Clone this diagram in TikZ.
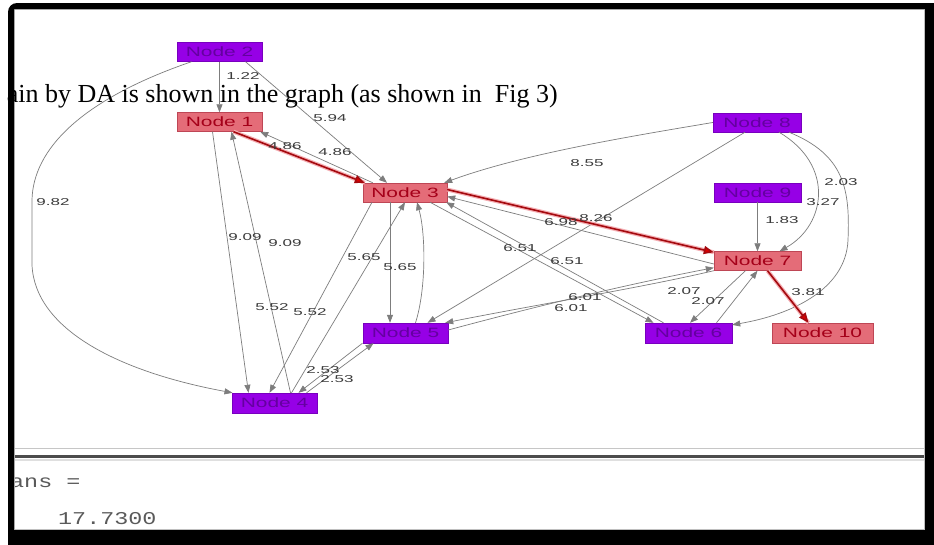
\documentclass[tikz,border=0pt]{standalone}
\usepackage{fontspec}
\usepackage{graphicx}
\setmainfont{Liberation Serif}
\newfontfamily\sansf{Liberation Sans}
\newfontfamily\monof{Liberation Mono}
\usetikzlibrary{arrows.meta}
\definecolor{nodepurple}{RGB}{150,0,230}
\definecolor{purpleborder}{RGB}{120,0,190}
\definecolor{purpletext}{RGB}{100,0,160}
\definecolor{nodesalmon}{RGB}{228,108,120}
\definecolor{salmonborder}{RGB}{190,70,85}
\definecolor{salmontext}{RGB}{165,0,25}
\definecolor{edgegray}{RGB}{125,125,125}
\definecolor{labelgray}{RGB}{60,60,60}
\definecolor{redline}{RGB}{165,10,15}
\definecolor{pinkglow}{RGB}{245,175,180}
\definecolor{arrowred}{RGB}{220,0,0}
\definecolor{monogray}{RGB}{90,90,90}
\newcommand{\nt}[1]{\scalebox{1.55}[1]{#1}}
\newcommand{\lb}[1]{\scalebox{1.7}[1]{#1}}
\newcommand{\mt}[1]{\scalebox{1.3}[1]{#1}}
\begin{document}
\begin{tikzpicture}[x=1pt,y=-1pt,
  pnode/.style={draw=purpleborder, fill=nodepurple, text=purpletext, inner sep=0pt, minimum height=19pt, font=\sansf\fontsize{13.5}{14}\selectfont},
  rnode/.style={draw=salmonborder, fill=nodesalmon, text=salmontext, inner sep=0pt, minimum height=19pt, font=\sansf\fontsize{13.5}{14}\selectfont},
  edge/.style={draw=edgegray, line width=0.7pt, -{Triangle[length=8pt,width=6pt]}},
  redge/.style={draw=redline, line width=1.6pt, preaction={draw=pinkglow, line width=4pt, -}, -{Triangle[length=10pt,width=8pt,fill=arrowred]}},
  wl/.style={inner sep=0pt, text=labelgray, font=\sansf\fontsize{10}{10}\selectfont},
  mono/.style={inner sep=0pt, text=monogray, font=\monof\fontsize{18}{18}\selectfont}
]
\useasboundingbox (0,0) rectangle (934,544);
\begin{scope}
\clip (0,0) rectangle (934,544);
\fill[white] (0,0) rectangle (934,544);

% separator of the window
\draw[gray!45, line width=1pt] (14,448) -- (925,448);
\draw[gray!60!black, line width=2.5pt] (14,456.5) -- (925,456.5);
\draw[gray!25, line width=2pt] (14,459.5) -- (925,459.5);

% nodes
\node[pnode, minimum width=85pt]  (N2)  at (219.5,52)  {\nt{Node 2}};
\node[rnode, minimum width=85pt]  (N1)  at (219.5,122) {\nt{Node 1}};
\node[rnode, minimum width=84pt]  (N3)  at (405,192.5) {\nt{Node 3}};
\node[pnode, minimum width=88pt]  (N8)  at (757,122.5) {\nt{Node 8}};
\node[pnode, minimum width=87pt]  (N9)  at (757.5,192.5) {\nt{Node 9}};
\node[rnode, minimum width=87pt]  (N7)  at (757.5,261) {\nt{Node 7}};
\node[rnode, minimum width=101pt, minimum height=20pt] (N10) at (822.5,333) {\nt{Node 10}};
\node[pnode, minimum width=87pt, minimum height=20pt]  (N6)  at (688.5,333) {\nt{Node 6}};
\node[pnode, minimum width=85pt, minimum height=20pt]  (N5)  at (405.5,333) {\nt{Node 5}};
\node[pnode, minimum width=85pt, minimum height=20pt]  (N4)  at (274.5,403) {\nt{Node 4}};

% gray edges
\draw[edge] (N2.south) -- (N1.north);
\draw[edge] ([xshift=26pt]N2.south) -- ([xshift=-18pt]N3.north);
\draw[edge] ([xshift=-28pt]N2.south) .. controls (80,100) and (33,150) .. (32,200) -- (32,265) .. controls (35,330) and (120,372) .. ([xshift=-42pt]N4.north);
\draw[edge] ([xshift=10pt]N3.north west) -- ([xshift=-2pt]N1.south east);
\draw[edge] ([xshift=-7pt]N1.south) -- ([xshift=-26pt]N4.north);
\draw[edge] ([xshift=16pt]N4.north) -- ([xshift=12pt]N1.south);
\draw[edge] ([xshift=-33pt]N3.south) -- ([xshift=-5pt]N4.north);
\draw[edge] ([xshift=17pt]N4.north) -- (N3.south);
\draw[edge] ([xshift=-15pt]N3.south) -- ([xshift=-15.5pt]N5.north);
\draw[edge] ([xshift=10pt]N5.north) .. controls (426,290) and (426,235) .. ([xshift=12pt]N3.south);
\draw[edge] (N8.west) .. controls (620,138) and (520,155) .. ([xshift=-3pt]N3.north east);
\draw[edge] ([xshift=-12pt]N8.south) -- ([xshift=22pt]N5.north);
\draw[edge] ([yshift=-3pt]N7.west) -- ([yshift=-4pt]N3.east);
\draw[edge] ([xshift=25pt]N3.south) -- ([xshift=-35pt]N6.north);
\draw[edge] ([xshift=-25pt]N6.north) -- ([xshift=-1pt]N3.south east);
\draw[edge] ([yshift=3pt]N5.east) .. controls (560,300) and (640,282) .. ([yshift=3pt]N7.south west);
\draw[edge] (N7.south west) .. controls (640,288) and (540,304) .. ([xshift=-3pt]N5.north east);
\draw[edge] ([xshift=-12pt]N7.south) -- ([xshift=1.5pt]N6.north);
\draw[edge] ([xshift=28pt]N6.north) -- (N7.south);
\draw[edge] ([xshift=22pt]N8.south) .. controls (835,165) and (826,225) .. ([xshift=22pt]N7.north);
\draw[edge] ([xshift=32pt]N8.south) .. controls (845,155) and (850,190) .. (848,240) .. controls (846,290) and (790,315) .. ([yshift=-2pt]N6.north east);
\draw[edge] (N9.south) -- (N7.north);
\draw[edge] ([xshift=32pt]N4.north) -- ([xshift=-32pt]N5.south);
\draw[edge] ([xshift=-43pt]N5.south) -- ([xshift=24pt]N4.north);

% red path
\draw[redge] ([xshift=14pt]N1.south) -- ([xshift=2pt]N3.north west);
\draw[redge] ([yshift=3pt]N3.east) -- ([yshift=-1pt]N7.north west);
\draw[redge] ([xshift=10pt]N7.south) -- ([xshift=-14pt]N10.north);

% edge labels
\node[wl] (l1)  at (243,76)  {\lb{1.22}};
\node[wl] (l2)  at (330,118) {\lb{5.94}};
\node[wl] (l3)  at (53,202)  {\lb{9.82}};
\node[wl] (l4)  at (285,146) {\lb{4.86}};
\node[wl] (l5)  at (335,152) {\lb{4.86}};
\node[wl] (l6)  at (245,237) {\lb{9.09}};
\node[wl] (l7)  at (285,243) {\lb{9.09}};
\node[wl] (l8)  at (272,307) {\lb{5.52}};
\node[wl] (l9)  at (310,312) {\lb{5.52}};
\node[wl] (l10) at (364,257) {\lb{5.65}};
\node[wl] (l11) at (400,267) {\lb{5.65}};
\node[wl] (l12) at (587,163) {\lb{8.55}};
\node[wl] (l13) at (561,222) {\lb{6.98}};
\node[wl] (l14) at (596,218) {\lb{8.26}};
\node[wl] (l15) at (520,248) {\lb{6.51}};
\node[wl] (l16) at (567,261) {\lb{6.51}};
\node[wl] (l17) at (585,297) {\lb{6.01}};
\node[wl] (l18) at (571,308) {\lb{6.01}};
\node[wl] (l19) at (684,291) {\lb{2.07}};
\node[wl] (l20) at (708,301) {\lb{2.07}};
\node[wl] (l21) at (841,182) {\lb{2.03}};
\node[wl] (l22) at (823,202) {\lb{3.27}};
\node[wl] (l23) at (782,220) {\lb{1.83}};
\node[wl] (l24) at (808,292) {\lb{3.81}};
\node[wl] (l25) at (323,370) {\lb{2.53}};
\node[wl] (l26) at (337,379) {\lb{2.53}};

% command window text
\node[mono, anchor=base west] (ans) at (10,487) {\mt{ans =}};
\node[mono, anchor=base west] (val) at (58,524) {\mt{17.7300}};

% screen frame
\draw[gray!50, line width=1pt] (14.5,9.5) rectangle (924.5,529.5);
\fill[black, even odd rule] [rounded corners=9pt] (8,3) rectangle (960,570) [sharp corners] (14,9) rectangle (925,530);

% overlaid caption text
\node[anchor=base east, inner sep=0pt, font=\fontsize{26}{26}\selectfont] (cap) at (558,102) {ain by DA is shown in the graph (as shown in\ \ Fig 3)};
\end{scope}
\end{tikzpicture}
\end{document}
